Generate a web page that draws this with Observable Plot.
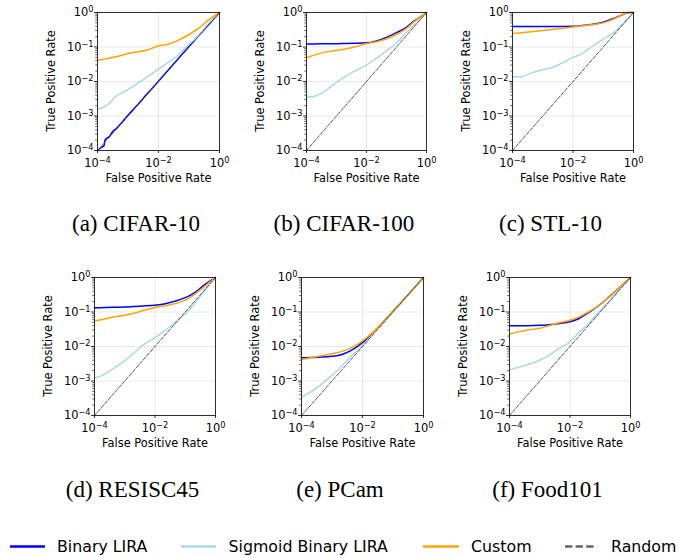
<!DOCTYPE html>
<html><head><meta charset="utf-8">
<script src="https://cdn.jsdelivr.net/npm/d3@7"></script>
<script src="https://cdn.jsdelivr.net/npm/@observablehq/plot@0.6"></script>
<style>
body{margin:0;background:#fff;}
#fig{position:relative;width:679px;height:558px;overflow:hidden;background:#fff;}
#fig svg{position:absolute;}
</style></head><body><div id="fig"></div>
<script>
// ---------- data ----------
const fprGrid = [1e-4, 2e-4, 4e-4, 1e-3, 2e-3, 4e-3, 1e-2, 2e-2, 4e-2, 0.1, 0.2, 0.4, 0.7, 1];
const captions = ["(a) CIFAR-10", "(b) CIFAR-100", "(c) STL-10", "(d) RESISC45", "(e) PCam", "(f) Food101"];
const seriesNames = ["Binary LIRA", "Sigmoid Binary LIRA", "Custom", "Random"];
const seriesColors = ["#0000ff", "#add8e6", "#ffa500", "#666666"];
const randomPlotColor = "#484848";
const xLabel = "False Positive Rate";
const yLabel = "True Positive Rate";

// CIFAR-10 binary LIRA has its own (jagged) fpr points
const cifar10BinaryFpr = [1e-4, 1.3e-4, 1.65e-4, 1.75e-4, 2.5e-4, 3.2e-4, 4e-4, 6e-4, 1e-3, 2e-3, 4e-3, 1e-2, 2e-2, 4e-2, 0.1, 0.2, 0.4, 0.7, 1];
const cifar10Binary  = [1.0e-4, 1.2e-4, 1.4e-4, 2.0e-4, 2.6e-4, 3.6e-4, 4.2e-4, 6.2e-4, 1.05e-3, 2.05e-3, 4.1e-3, 1.02e-2, 2.05e-2, 4.1e-2, 0.104, 0.205, 0.405, 0.7, 1];
const cifar10Sigmoid = [0.0016, 0.002, 0.0037, 0.0058, 0.0087, 0.013, 0.023, 0.035, 0.054, 0.12, 0.21, 0.44, 0.74, 1];
const cifar10Custom  = [0.041, 0.046, 0.052, 0.065, 0.072, 0.08, 0.108, 0.12, 0.15, 0.23, 0.34, 0.57, 0.82, 1];

const cifar100Binary  = [0.123, 0.123, 0.124, 0.125, 0.126, 0.128, 0.132, 0.148, 0.18, 0.26, 0.36, 0.58, 0.8, 1];
const cifar100Sigmoid = [0.0035, 0.0038, 0.0052, 0.0095, 0.014, 0.02, 0.03, 0.045, 0.07, 0.13, 0.25, 0.44, 0.72, 1];
const cifar100Custom  = [0.049, 0.06, 0.071, 0.08, 0.088, 0.1, 0.126, 0.14, 0.165, 0.23, 0.33, 0.55, 0.8, 1];

const stl10Binary  = [0.39, 0.39, 0.39, 0.39, 0.392, 0.395, 0.4, 0.42, 0.45, 0.52, 0.65, 0.83, 1, 1];
const stl10Sigmoid = [0.0138, 0.0138, 0.0175, 0.022, 0.025, 0.033, 0.05, 0.064, 0.1, 0.17, 0.245, 0.43, 0.72, 1];
const stl10Custom  = [0.245, 0.26, 0.275, 0.3, 0.32, 0.345, 0.38, 0.41, 0.44, 0.5, 0.62, 0.85, 1, 1];

const resiscBinary  = [0.132, 0.134, 0.137, 0.14, 0.145, 0.15, 0.158, 0.17, 0.2, 0.26, 0.36, 0.58, 0.82, 1];
const resiscSigmoid = [0.0012, 0.0015, 0.0022, 0.0039, 0.0065, 0.011, 0.018, 0.028, 0.045, 0.087, 0.17, 0.38, 0.7, 1];
const resiscCustom  = [0.055, 0.062, 0.07, 0.081, 0.092, 0.11, 0.135, 0.15, 0.17, 0.22, 0.32, 0.52, 0.78, 1];

const pcamBinary  = [0.0047, 0.0048, 0.0049, 0.0052, 0.0058, 0.0075, 0.013, 0.023, 0.043, 0.105, 0.205, 0.405, 0.7, 1];
const pcamSigmoid = [0.00034, 0.00048, 0.00075, 0.00145, 0.0026, 0.005, 0.0105, 0.021, 0.041, 0.1, 0.2, 0.4, 0.7, 1];
const pcamCustom  = [0.0042, 0.0047, 0.0053, 0.0062, 0.0071, 0.0088, 0.0145, 0.024, 0.044, 0.106, 0.205, 0.405, 0.7, 1];

const foodBinary  = [0.04, 0.04, 0.04, 0.041, 0.043, 0.046, 0.052, 0.065, 0.095, 0.165, 0.28, 0.48, 0.75, 1];
const foodSigmoid = [0.0021, 0.0025, 0.003, 0.004, 0.0055, 0.0085, 0.0135, 0.026, 0.045, 0.11, 0.21, 0.42, 0.71, 1];
const foodCustom  = [0.023, 0.027, 0.03, 0.034, 0.04, 0.048, 0.058, 0.072, 0.1, 0.165, 0.28, 0.48, 0.75, 1];

const randomFpr = [1e-4, 1];
const randomTpr = [1e-4, 1];

const xTicks = [1e-4, 1e-2, 1];
const yTicks = [1e-4, 1e-3, 1e-2, 1e-1, 1];

// ---------- build tables ----------
const zip = (xs, ys) => xs.map((x, i) => ({fpr: x, tpr: ys[i]}));
const panelSeries = [
  [zip(cifar10BinaryFpr, cifar10Binary), zip(fprGrid, cifar10Sigmoid), zip(fprGrid, cifar10Custom)],
  [zip(fprGrid, cifar100Binary), zip(fprGrid, cifar100Sigmoid), zip(fprGrid, cifar100Custom)],
  [zip(fprGrid, stl10Binary), zip(fprGrid, stl10Sigmoid), zip(fprGrid, stl10Custom)],
  [zip(fprGrid, resiscBinary), zip(fprGrid, resiscSigmoid), zip(fprGrid, resiscCustom)],
  [zip(fprGrid, pcamBinary), zip(fprGrid, pcamSigmoid), zip(fprGrid, pcamCustom)],
  [zip(fprGrid, foodBinary), zip(fprGrid, foodSigmoid), zip(fprGrid, foodCustom)]
];
const randomLine = zip(randomFpr, randomTpr);
const yMinor = d3.range(-4, 0).flatMap(k => d3.range(2, 10).map(m => m * Math.pow(10, k)));
// tick label "10^e" encoded as "10|e", turned into a superscript tspan after rendering
const fmt = d => "10|" + String(Math.round(Math.log10(d))).replace("-", "\u2212");

// ---------- layout ----------
const frames = [
  {left: 97, top: 12, w: 122, h: 138},
  {left: 306, top: 12, w: 120, h: 138},
  {left: 512, top: 12, w: 121, h: 138},
  {left: 94, top: 277, w: 121, h: 138},
  {left: 301, top: 277, w: 122, h: 138},
  {left: 509, top: 277, w: 121, h: 138}
];
const fig = document.getElementById("fig");
const ML = 62, MR = 14, MT = 10, MB = 46;
const NS = "http://www.w3.org/2000/svg";

frames.forEach((F, i) => {
  const lines = panelSeries[i].map((data, s) =>
    Plot.line(data, {x: "fpr", y: "tpr", stroke: seriesColors[s], strokeWidth: 1.5, curve: "monotone-x"}));
  const svg = Plot.plot({
    width: ML + F.w + MR, height: MT + F.h + MB,
    marginLeft: ML, marginRight: MR, marginTop: MT, marginBottom: MB,
    x: {type: "log", domain: [1e-4, 1]},
    y: {type: "log", domain: [1e-4, 1]},
    style: {fontFamily: "DejaVu Sans", fontSize: "11.4px", color: "black", background: "transparent", overflow: "visible"},
    marks: [
      Plot.gridX(xTicks, {stroke: "#b0b0b0", strokeOpacity: 0.35, strokeWidth: 0.8}),
      Plot.gridY(yTicks, {stroke: "#b0b0b0", strokeOpacity: 0.35, strokeWidth: 0.8}),
      Plot.axisY(yMinor, {tickSize: 1.8, tickFormat: () => "", label: null, strokeWidth: 0.6}),
      Plot.axisY(yTicks, {tickSize: 3, tickPadding: 1, tickFormat: fmt, label: null, strokeWidth: 0.8}),
      Plot.axisX(xTicks, {tickSize: 3, tickPadding: 5, tickFormat: fmt, label: null, strokeWidth: 0.8}),
      ...lines,
      Plot.line(randomLine, {x: "fpr", y: "tpr", stroke: randomPlotColor, strokeWidth: 0.9, strokeDasharray: "3.7,1.6"}),
      Plot.frame({stroke: "black", strokeWidth: 0.8}),
      Plot.text([xLabel], {text: d => d, frameAnchor: "bottom", dy: 31})
    ]
  });
  // superscript exponents in tick labels
  svg.querySelectorAll("text").forEach(t => {
    const s = t.textContent;
    if (s.startsWith("10|")) {
      t.textContent = "10";
      const sp = document.createElementNS(NS, "tspan");
      sp.setAttribute("dy", "-0.45em");
      sp.setAttribute("font-size", "0.72em");
      sp.textContent = s.slice(3);
      t.appendChild(sp);
    }
  });
  svg.style.left = (F.left - ML) + "px";
  svg.style.top = (F.top - MT) + "px";
  fig.appendChild(svg);
});

// ---------- y labels, captions & legend overlay ----------
const ov = d3.create("svg").attr("width", 679).attr("height", 558)
  .style("left", "0px").style("top", "0px").style("pointer-events", "none");
frames.forEach((F, i) => {
  const cx = F.left - 46, cy = F.top + F.h / 2;
  ov.append("text")
    .attr("transform", `translate(${cx},${cy}) rotate(-90)`)
    .attr("text-anchor", "middle").attr("dy", "0.35em")
    .attr("font-family", "DejaVu Sans").attr("font-size", 11.4).attr("fill", "black")
    .text(yLabel);
  ov.append("text")
    .attr("x", F.left + F.w / 2 - 22)
    .attr("y", i < 3 ? 231 : 497)
    .attr("text-anchor", "middle")
    .attr("font-family", "Liberation Serif, Times New Roman, serif")
    .attr("font-size", 23)
    .attr("fill", "black")
    .text(captions[i]);
});
const legendPos = [
  {x1: 10, x2: 45, tx: 57},
  {x1: 181, x2: 216, tx: 228.5},
  {x1: 423, x2: 459, tx: 471},
  {x1: 565, x2: 597, tx: 611}
];
const legendY = 546.5;
legendPos.forEach((p, i) => {
  ov.append("line").attr("x1", p.x1).attr("x2", p.x2).attr("y1", legendY).attr("y2", legendY)
    .attr("stroke", seriesColors[i]).attr("stroke-width", 2.5)
    .attr("stroke-dasharray", i === 3 ? "7.4,3.2" : null);
  ov.append("text").attr("x", p.tx).attr("y", legendY).attr("dy", "0.35em")
    .attr("font-family", "DejaVu Sans").attr("font-size", 15.8).attr("fill", "black")
    .text(seriesNames[i]);
});
fig.appendChild(ov.node());
</script></body></html>
